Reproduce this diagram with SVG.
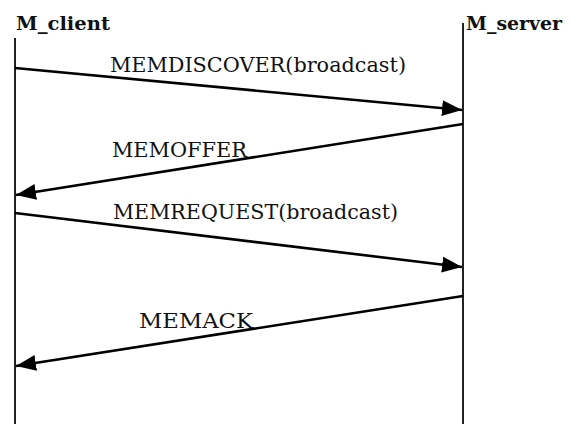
<svg xmlns="http://www.w3.org/2000/svg" width="570" height="424" viewBox="0 0 570 424">
<style>
.title{font-family:'DejaVu Serif',serif;font-weight:bold;font-size:19px;fill:#111}
.lbl{font-family:'DejaVu Serif',serif;font-size:20px;fill:#111}
.life{stroke:#222;stroke-width:2;fill:none}
.msg{stroke:#000;stroke-width:2.6;fill:none;marker-end:url(#ah)}
</style>
<defs>
<marker id="ah" markerUnits="userSpaceOnUse" markerWidth="22" markerHeight="18" refX="20" refY="8" orient="auto">
<path d="M0,0 L20,8 L0,16 Z" fill="#000"/>
</marker>
</defs>
<rect width="570" height="424" fill="#fff"/>
<g id="client">
<text class="title" x="16" y="29.5" textLength="94" lengthAdjust="spacingAndGlyphs">M_client</text>
<line class="life" x1="15" y1="38" x2="15" y2="424"/>
</g>
<g id="server">
<text class="title" x="466" y="29.5" font-size="18" textLength="96" lengthAdjust="spacingAndGlyphs">M_server</text>
<line class="life" x1="463" y1="23" x2="463" y2="424"/>
</g>
<g id="connectors">
<line class="msg" x1="15" y1="68" x2="462" y2="110"/>
<line class="msg" x1="463" y1="124" x2="16" y2="195"/>
<line class="msg" x1="15" y1="213" x2="462" y2="267"/>
<line class="msg" x1="463" y1="296" x2="16" y2="366"/>
</g>
<g id="labels">
<text class="lbl" x="110" y="72" textLength="296" lengthAdjust="spacingAndGlyphs">MEMDISCOVER(broadcast)</text>
<text class="lbl" x="112" y="157" textLength="135" lengthAdjust="spacingAndGlyphs">MEMOFFER</text>
<text class="lbl" x="113" y="219" textLength="285" lengthAdjust="spacingAndGlyphs">MEMREQUEST(broadcast)</text>
<text class="lbl" x="139" y="328" textLength="114" lengthAdjust="spacingAndGlyphs">MEMACK</text>
</g>
</svg>
